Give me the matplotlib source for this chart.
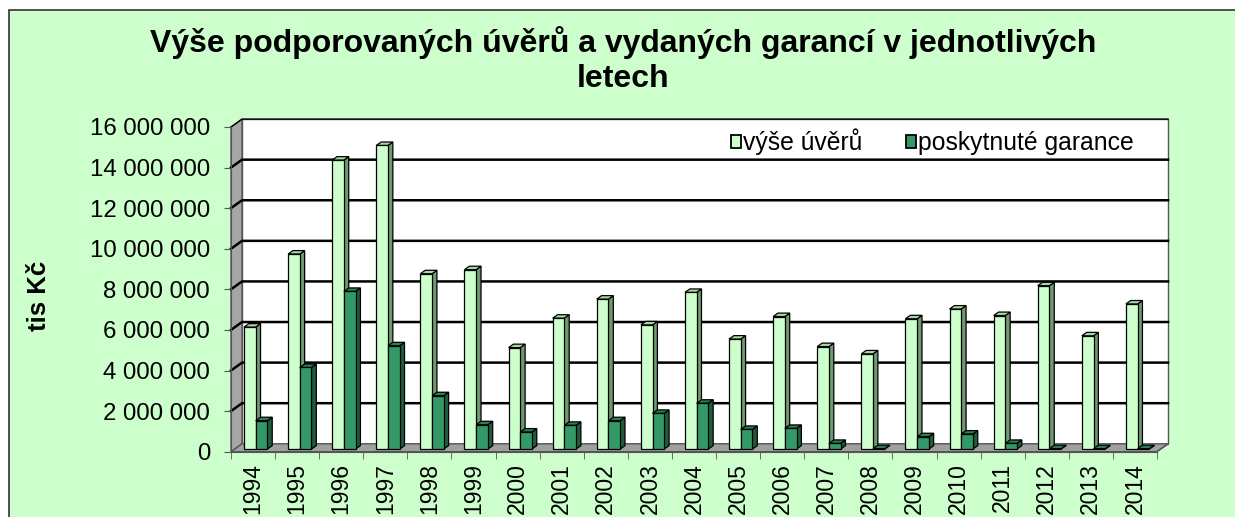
import matplotlib.pyplot as plt
from matplotlib.patches import Polygon, Rectangle
from matplotlib.ticker import FuncFormatter, MultipleLocator

plt.rcParams["font.family"] = ["Liberation Sans", "DejaVu Sans"]

# data (tis Kč)
roky = ["1994", "1995", "1996", "1997", "1998", "1999", "2000", "2001", "2002", "2003", "2004",
        "2005", "2006", "2007", "2008", "2009", "2010", "2011", "2012", "2013", "2014"]
vyse_uveru = [6010000, 9610000, 14240000, 14960000, 8640000, 8840000, 5000000, 6450000, 7390000,
              6120000, 7720000, 5420000, 6530000, 5050000, 4690000, 6420000, 6900000, 6580000,
              8050000, 5580000, 7150000]
garance = [1400000, 4020000, 7770000, 5090000, 2630000, 1200000, 840000, 1170000, 1400000,
           1760000, 2260000, 970000, 1020000, 280000, 20000, 610000, 740000, 280000,
           20000, 20000, 20000]

pozadi = "#CCFFCC"
sv_front, sv_side, sv_top = "#CCFFCC", "#6F9A6F", "#A8D8A8"
tm_front, tm_side, tm_top = "#339966", "#1E5E3E", "#2A8055"

ymax = 16000000
n = len(roky)
# hloubka steny a sloupcu (3D efekt)
dxw, dyw = 0.25, 390000
dxb, dyb = 0.11, 170000
b0 = 130000
sirka = 0.265
posun = 0.06

fig = plt.figure(figsize=(12.35, 5.17), dpi=100)
fig.patch.set_facecolor("white")
fig.add_artist(Rectangle((9 / 1235, -0.1), 1.2, 1 - 10 / 517 + 0.1, transform=fig.transFigure,
                         facecolor=pozadi, edgecolor="#333333", lw=1.2, zorder=0))

ax = fig.add_axes([231 / 1235, 1 - 451.7 / 517, 926 / 1235, 324.7 / 517])
ax.set_facecolor("none")
ax.set_xlim(-0.5, n - 0.5)
ax.set_ylim(0, ymax)

x0, x1 = -0.5, n - 0.5
# zadni stena, leva stena, podlaha
ax.add_patch(Polygon([(x0 + dxw, dyw), (x1 + dxw, dyw), (x1 + dxw, ymax + dyw), (x0 + dxw, ymax + dyw)],
                     closed=True, fc="white", ec="#555555", lw=1, clip_on=False, zorder=1))
ax.add_patch(Polygon([(x0, 0), (x0 + dxw, dyw), (x0 + dxw, ymax + dyw), (x0, ymax)],
                     closed=True, fc="#A6A6A6", ec="#555555", lw=1, clip_on=False, zorder=1))
ax.add_patch(Polygon([(x0, 0), (x1, 0), (x1 + dxw, dyw), (x0 + dxw, dyw)],
                     closed=True, fc="#A0A0A0", ec="#555555", lw=1, clip_on=False, zorder=1.5))

# mrizka
for v in range(2000000, ymax + 1, 2000000):
    ax.plot([x0, x0 + dxw, x1 + dxw], [v, v + dyw, v + dyw], color="black",
            lw=1.8 if v < ymax else 1.0, clip_on=False, zorder=1.2)


def sloupec(x, h, front, side, top):
    kw = dict(closed=True, ec="black", lw=0.9, clip_on=False, zorder=3)
    ax.add_patch(Polygon([(x + sirka, b0), (x + sirka + dxb, b0 + dyb),
                          (x + sirka + dxb, b0 + h + dyb), (x + sirka, b0 + h)], fc=side, **kw))
    ax.add_patch(Polygon([(x, b0 + h), (x + dxb, b0 + h + dyb),
                          (x + sirka + dxb, b0 + h + dyb), (x + sirka, b0 + h)], fc=top, **kw))
    ax.add_patch(Rectangle((x, b0), sirka, h, fc=front, ec="black", lw=0.9, clip_on=False, zorder=3))


for i in range(n):
    c = i + posun
    sloupec(c - sirka, vyse_uveru[i], sv_front, sv_side, sv_top)
    sloupec(c, garance[i], tm_front, tm_side, tm_top)

# osy
for s in ["top", "right"]:
    ax.spines[s].set_visible(False)
for s in ["left", "bottom"]:
    ax.spines[s].set_color("#555555")
    ax.spines[s].set_zorder(2)
ax.plot([x1, x1 + dxw], [0, dyw], color="#555555", lw=1, clip_on=False, zorder=2)

ax.yaxis.set_major_locator(MultipleLocator(2000000))
ax.yaxis.set_major_formatter(FuncFormatter(lambda v, p: f"{int(v):,}".replace(",", " ")))
ax.tick_params(axis="y", direction="out", length=5, color="#555555", labelsize=17.3, pad=10)

ax.set_xticks(range(n))
ax.set_xticklabels(roky, rotation=90)
ax.set_xticks([k - 0.5 for k in range(n + 1)], minor=True)
ax.tick_params(axis="x", which="major", length=0, labelsize=16.5, pad=8)
ax.tick_params(axis="x", which="minor", direction="out", length=5, color="#555555")

leg = ax.legend(handles=[Rectangle((0, 0), 1, 1, fc=sv_front, ec="black", lw=1.3),
                         Rectangle((0, 0), 1, 1, fc=tm_front, ec="black", lw=1.3)],
                labels=["výše úvěrů", "poskytnuté garance"], ncol=2, frameon=False,
                fontsize=17.8, handlelength=0.42, handleheight=0.42, handletextpad=0.08,
                columnspacing=1.75, loc="center right", borderpad=0, borderaxespad=0,
                bbox_to_anchor=(1134 / 1235, 1 - 142 / 517), bbox_transform=fig.transFigure)
leg.set_zorder(5)

fig.text(623.5 / 1235, 1 - 43 / 517, "Výše podporovaných úvěrů a vydaných garancí v jednotlivých",
         ha="center", va="center", fontsize=23, fontweight="bold")
fig.text(623.5 / 1235, 1 - 79.5 / 517, "letech", ha="center", va="center",
         fontsize=23, fontweight="bold")
fig.text(39 / 1235, 1 - 296 / 517, "tis Kč", rotation=90, ha="center", va="center",
         fontsize=18.5, fontweight="bold")

fig.savefig("out.png", dpi=100)
